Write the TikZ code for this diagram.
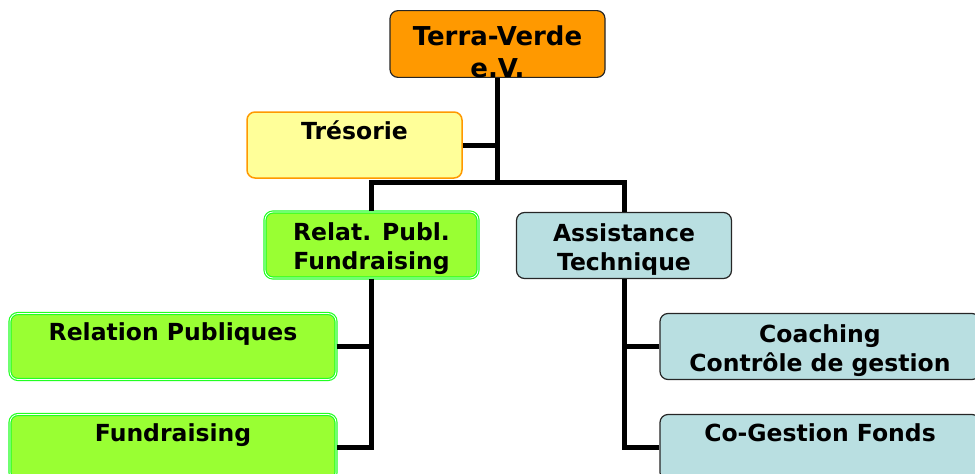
\documentclass[tikz,border=0pt]{standalone}
\usepackage{fontspec}
\setmainfont{DejaVu Sans}
\usepackage{tikz}
\usetikzlibrary{positioning}

\definecolor{headfill}{HTML}{FF9900}
\definecolor{tresfill}{HTML}{FFFF99}
\definecolor{publfill}{HTML}{99FF33}
\definecolor{publdraw}{HTML}{22FF22}
\definecolor{techfill}{HTML}{B9DFE1}

\newcommand{\topgap}{\rule{0pt}{26pt}}

\tikzset{
  orgbox/.style={rounded corners=8pt, inner sep=0pt, align=center,
    font=\fontsize{23.5}{29}\selectfont\bfseries, line width=1.2pt},
  headbox/.style={orgbox, fill=headfill, draw=black!85,
    minimum width=215pt, minimum height=66pt,
    font=\fontsize{26}{32}\selectfont\bfseries},
  tresbox/.style={orgbox, fill=tresfill, draw=headfill, line width=1.5pt,
    minimum width=215pt, minimum height=66pt},
  publbox/.style={orgbox, fill=publfill, draw=publdraw, double=white,
    double distance=0.8pt, line width=1.2pt, minimum height=66pt},
  techbox/.style={orgbox, fill=techfill, draw=black!85, minimum height=66pt},
  link/.style={line width=5pt}
}

\begin{document}
\begin{tikzpicture}[x=1pt, y=-1pt]

  \useasboundingbox (0,0) rectangle (975,474);

  %% Boxes
  \node[headbox] (terra) at (497.5,44) {\strut\\[-20pt]Terra-Verde\\e.V.};
  \node[tresbox] (tres) at (354.5,145) {\topgap Trésorie\\\strut};
  \node[publbox, minimum width=213pt] (relat) at (371.5,245) {\topgap Relat. Publ.\\Fundraising};
  \node[techbox, minimum width=215pt] (assist) at (624,245.5) {\topgap Assistance\\Technique};

  \node[publbox, minimum width=326pt] (relpub) at (173,346.5) {\topgap Relation Publiques\\\strut};
  \node[publbox, minimum width=326pt] (fund) at (173,447.5) {\topgap Fundraising\\\strut};
  \node[techbox, minimum width=320pt] (coach) at (820,346.5) {\topgap Coaching\\Contrôle de gestion};
  \node[techbox, minimum width=320pt] (cogest) at (820,447.5) {\topgap Co-Gestion Fonds\\\strut};

  %% Connectors
  \coordinate (bus) at (497.5,182);
  \draw[link] (terra.south) -- (bus);
  \draw[link] (tres.east) -- (tres.east -| terra.south);
  \draw[link] (relat.north) |- (bus) -| (assist.north);

  \draw[link] (relat.south) |- (fund.east);
  \draw[link] (relpub.east) -| (relat.south);
  \draw[link] (assist.south) |- (cogest.west);
  \draw[link] (coach.west) -| (assist.south);

\end{tikzpicture}
\end{document}
